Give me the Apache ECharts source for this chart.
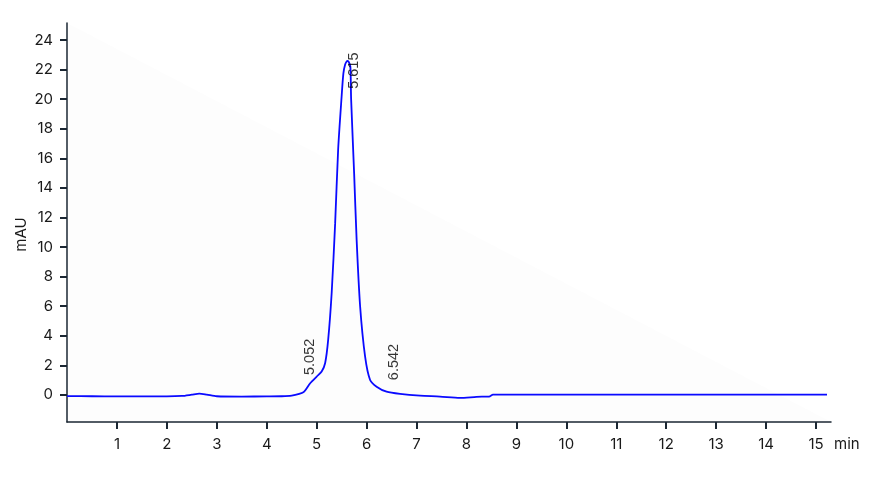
<!DOCTYPE html>
<html>
<head>
<meta charset="utf-8">
<script src="https://cdn.jsdelivr.net/npm/echarts@6/dist/echarts.min.js"></script>
<style>
html,body{margin:0;padding:0;background:#fff;}
#chart{width:874px;height:480px;}
</style>
</head>
<body>
<div id="chart"></div>
<script>
// retention time (min)
var times = [0, 0.5, 1, 1.5, 2, 2.3, 2.5, 2.65, 2.8, 3.0, 3.5, 4.0, 4.3, 4.5, 4.65, 4.75, 4.87, 5.0, 5.1, 5.17, 5.23, 5.3, 5.37, 5.43, 5.5, 5.535, 5.57, 5.6, 5.62, 5.645, 5.675, 5.69, 5.75, 5.8, 5.87, 5.97, 6.07, 6.2, 6.4, 6.67, 7.07, 7.47, 7.87, 8.2, 8.4, 8.47, 8.53, 9, 10, 12, 14, 15.22];
// absorbance (mAU)
var signal = [-0.08, -0.09, -0.1, -0.1, -0.1, -0.07, 0.02, 0.09, 0.02, -0.09, -0.11, -0.1, -0.09, -0.05, 0.07, 0.22, 0.79, 1.24, 1.58, 2.16, 3.72, 6.88, 11.6, 16.6, 20.2, 21.75, 22.35, 22.55, 22.58, 22.5, 22.2, 20.0, 15.0, 10.5, 6.0, 2.59, 1.01, 0.56, 0.22, 0.07, -0.05, -0.11, -0.2, -0.13, -0.11, -0.09, 0.02, 0.02, 0.02, 0.02, 0.02, 0.02];
// peak annotations
var peakTimes = [5.052, 5.615, 6.542];
var peakLabelBase = [1.35, 20.7, 1.0];
var xTicks = [1,2,3,4,5,6,7,8,9,10,11,12,13,14,15];
var yTicks = [0,2,4,6,8,10,12,14,16,18,20,22,24];

var lineData = times.map(function(t,i){return [t, signal[i]];});
// label offsets are in the rotated label frame: [-down, right]
var peakOffsets = [[0,-9],[0,7],[0,0]];
var peakData = peakTimes.map(function(t,i){
  return {value: [t, peakLabelBase[i]], label: {offset: peakOffsets[i]}};
});

var axisColor = '#1b2733';
var font = 'Inter';
var chart = echarts.init(document.getElementById('chart'));
chart.setOption({
  animation: false,
  backgroundColor: '#ffffff',
  grid: {left: 67, right: 43, top: 23, bottom: 58, containLabel: false},
  xAxis: {
    type: 'value', min: 0, max: 15.3,
    name: 'min', nameLocation: 'end', nameGap: 3,
    nameTextStyle: {fontFamily: font, fontSize: 15, color: '#1a1a1a', verticalAlign: 'top', padding: [15, 0, 0, 0]},
    axisLine: {show: true, onZero: false, lineStyle: {color: axisColor, width: 1.5}},
    axisTick: {show: true, length: 7, lineStyle: {color: axisColor, width: 2}, customValues: xTicks},
    axisLabel: {fontFamily: font, fontSize: 15, color: '#1a1a1a', margin: 15, customValues: xTicks},
    splitLine: {show: false}
  },
  yAxis: {
    type: 'value', min: -1.83, max: 25.15,
    name: 'mAU', nameLocation: 'middle', nameGap: 38, nameRotate: 90, nameMoveOverlap: false,
    nameTextStyle: {fontFamily: font, fontSize: 15, color: '#1a1a1a', padding: [0, 24, 0, 0]},
    axisLine: {show: true, onZero: false, lineStyle: {color: axisColor, width: 1.5}},
    axisTick: {show: true, length: 7, lineStyle: {color: axisColor, width: 2}, customValues: yTicks},
    axisLabel: {fontFamily: font, fontSize: 15, color: '#1a1a1a', margin: 14, customValues: yTicks},
    splitLine: {show: false}
  },
  series: [
    {
      type: 'line', data: lineData, smooth: 0.25, showSymbol: false,
      lineStyle: {color: '#0a0aff', width: 1.8}, z: 3
    },
    {
      type: 'scatter', data: peakData, symbolSize: 0, z: 4,
      label: {
        show: true, position: 'inside', rotate: 90, align: 'left', verticalAlign: 'middle',
        fontFamily: 'Liberation Sans', fontSize: 14.5, color: '#000',
        formatter: function(p){ return peakTimes[p.dataIndex].toFixed(3); }
      }
    }
  ]
});

// faint diagonal background shade in plot area
var tl = chart.convertToPixel({gridIndex: 0}, [0, 25.15]);
var br = chart.convertToPixel({gridIndex: 0}, [15.3, -1.83]);
chart.setOption({graphic: [{type: 'polygon', z: -10, silent: true,
  shape: {points: [[tl[0], tl[1]], [tl[0], br[1]], [br[0], br[1]]]},
  style: {fill: '#fdfdfd'}}]});
</script>
</body>
</html>
